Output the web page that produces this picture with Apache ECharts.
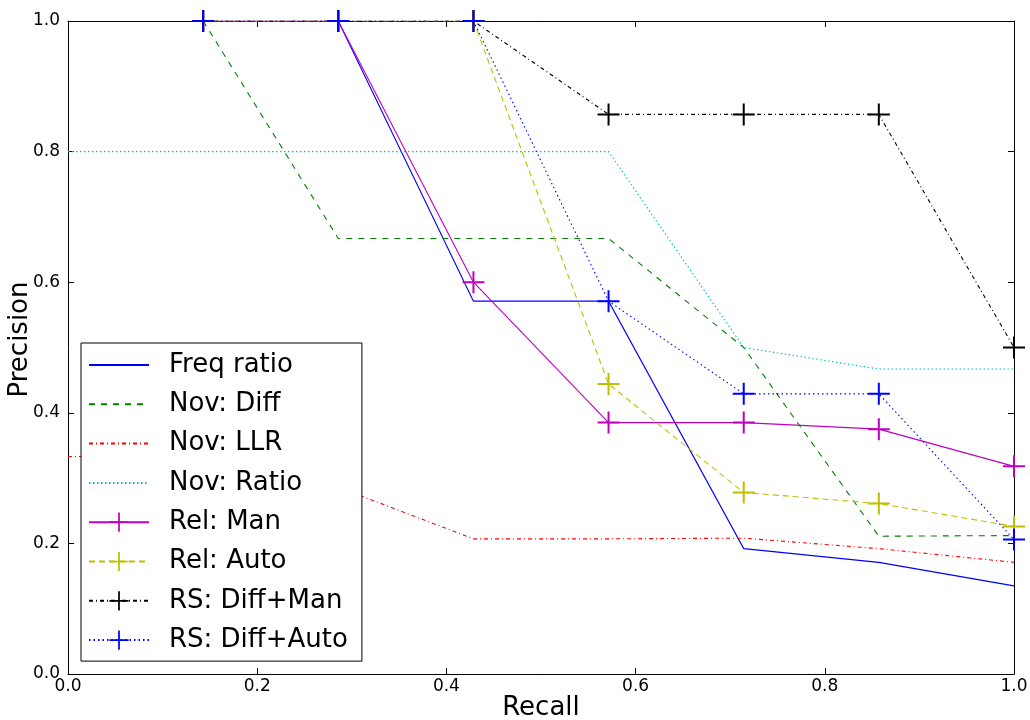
<!DOCTYPE html>
<html>
<head>
<meta charset="utf-8">
<title>Precision / Recall</title>
<script src="https://cdn.jsdelivr.net/npm/echarts@6/dist/echarts.min.js"></script>
<style>
  html, body { margin: 0; padding: 0; background: #fff; }
  #chart { width: 1030px; height: 720px; }
</style>
</head>
<body>
<div id="chart"></div>
<script>
// recall levels (x), one precision value per level, null = no point
var recall = [0, 0.1429, 0.2857, 0.4286, 0.5714, 0.7143, 0.8571, 1.0];
var xTicks = [0.0, 0.2, 0.4, 0.6, 0.8, 1.0];
var yTicks = [0.0, 0.2, 0.4, 0.6, 0.8, 1.0];

var freqRatio  = [null, null, 1.0, 0.571, 0.571, 0.192, 0.171, 0.135];
var novDiff    = [null, 1.0, 0.667, 0.667, 0.667, 0.5, 0.211, 0.212];
var novLLR     = [0.333, 0.333, 0.286, 0.207, 0.207, 0.208, 0.192, 0.171];
var novRatio   = [0.8, 0.8, 0.8, 0.8, 0.8, 0.5, 0.467, 0.467];
var relMan     = [null, 1.0, 1.0, 0.6, 0.385, 0.385, 0.375, 0.318];
var relAuto    = [null, 1.0, 1.0, 1.0, 0.444, 0.278, 0.261, 0.226];
var rsDiffMan  = [null, 1.0, 1.0, 1.0, 0.857, 0.857, 0.857, 0.5];
var rsDiffAuto = [null, 1.0, 1.0, 1.0, 0.571, 0.429, 0.429, 0.206];

var plus = 'path://M-1,-11h2v22h-2z M-11,-1h22v2h-22z';

function pairs(vals) {
  var out = [];
  for (var i = 0; i < recall.length; i++) {
    out.push([recall[i], vals[i]]);
  }
  return out;
}

function makeSeries(name, vals, color, dash, marker) {
  return {
    name: name,
    type: 'line',
    data: pairs(vals),
    connectNulls: false,
    symbol: marker ? plus : 'none',
    symbolSize: 22,
    showSymbol: !!marker,
    lineStyle: { color: color, width: 1.1, type: dash },
    itemStyle: { color: color },
    emphasis: { disabled: true },
    animation: false
  };
}

// legend entries; lines without markers get an invisible legend symbol
function legendItem(name, marker) {
  if (marker) return { name: name };
  return { name: name, itemStyle: { color: 'rgba(0,0,0,0)', borderWidth: 0 } };
}

var font = 'DejaVu Sans';
var chart = echarts.init(document.getElementById('chart'));

function makeAxis(position, extra) {
  var axis = {
    type: 'value',
    position: position,
    min: 0,
    max: 1,
    interval: 0.2,
    axisLine: { show: true, onZero: false, lineStyle: { color: '#000', width: 1 } },
    axisTick: { show: true, inside: true, length: 6, lineStyle: { color: '#000', width: 1 } },
    axisLabel: { show: false },
    splitLine: { show: false }
  };
  return Object.assign(axis, extra || {});
}

var option = {
  backgroundColor: '#fff',
  animation: false,
  grid: { left: 68, right: 16, top: 21, bottom: 46, containLabel: false, outerBoundsMode: 'none' },
  legend: {
    orient: 'vertical',
    left: 81,
    top: 343,
    padding: [7, 14, 6, 7],
    itemWidth: 60,
    itemHeight: 24,
    itemGap: 9.3,
    backgroundColor: '#fff',
    borderColor: '#000',
    borderWidth: 1,
    borderRadius: 0,
    textStyle: { fontFamily: font, fontSize: 26, color: '#000', lineHeight: 30, padding: [0, 0, 0, 15] },
    data: [
      legendItem('Freq ratio', false),
      legendItem('Nov: Diff', false),
      legendItem('Nov: LLR', false),
      legendItem('Nov: Ratio', false),
      legendItem('Rel: Man', true),
      legendItem('Rel: Auto', true),
      legendItem('RS: Diff+Man', true),
      legendItem('RS: Diff+Auto', true)
    ]
  },
  xAxis: [
    makeAxis('bottom', {
      name: 'Recall',
      nameLocation: 'middle',
      nameGap: 21,
      nameMoveOverlap: false,
      nameTextStyle: { fontFamily: font, fontSize: 26, color: '#000' },
      axisLabel: {
        show: true, fontFamily: font, fontSize: 17, color: '#000', margin: 4,
        formatter: function (v) { return xTicks.indexOf(+v.toFixed(1)) >= 0 ? v.toFixed(1) : ''; }
      }
    }),
    makeAxis('top')
  ],
  yAxis: [
    makeAxis('left', {
      name: 'Precision',
      nameLocation: 'middle',
      nameGap: 35,
      nameMoveOverlap: false,
      nameTextStyle: { fontFamily: font, fontSize: 26, color: '#000', padding: [0, 0, 0, 16] },
      axisLabel: {
        show: true, fontFamily: font, fontSize: 17, color: '#000', margin: 8,
        formatter: function (v) { return yTicks.indexOf(+v.toFixed(1)) >= 0 ? v.toFixed(1) : ''; }
      }
    }),
    makeAxis('right')
  ],
  series: [
    makeSeries('Freq ratio', freqRatio, '#0000ff', 'solid', false),
    makeSeries('Nov: Diff', novDiff, '#008000', [6, 6], false),
    makeSeries('Nov: LLR', novLLR, '#ff0000', [4, 3, 1, 3], false),
    makeSeries('Nov: Ratio', novRatio, '#00bfbf', [1.5, 2.5], false),
    makeSeries('Rel: Man', relMan, '#bf00bf', 'solid', true),
    makeSeries('Rel: Auto', relAuto, '#bfbf00', [6, 4], true),
    makeSeries('RS: Diff+Man', rsDiffMan, '#000000', [4, 3, 1, 3], true),
    makeSeries('RS: Diff+Auto', rsDiffAuto, '#0000ff', [1.5, 3], true)
  ]
};

chart.setOption(option);
</script>
</body>
</html>
